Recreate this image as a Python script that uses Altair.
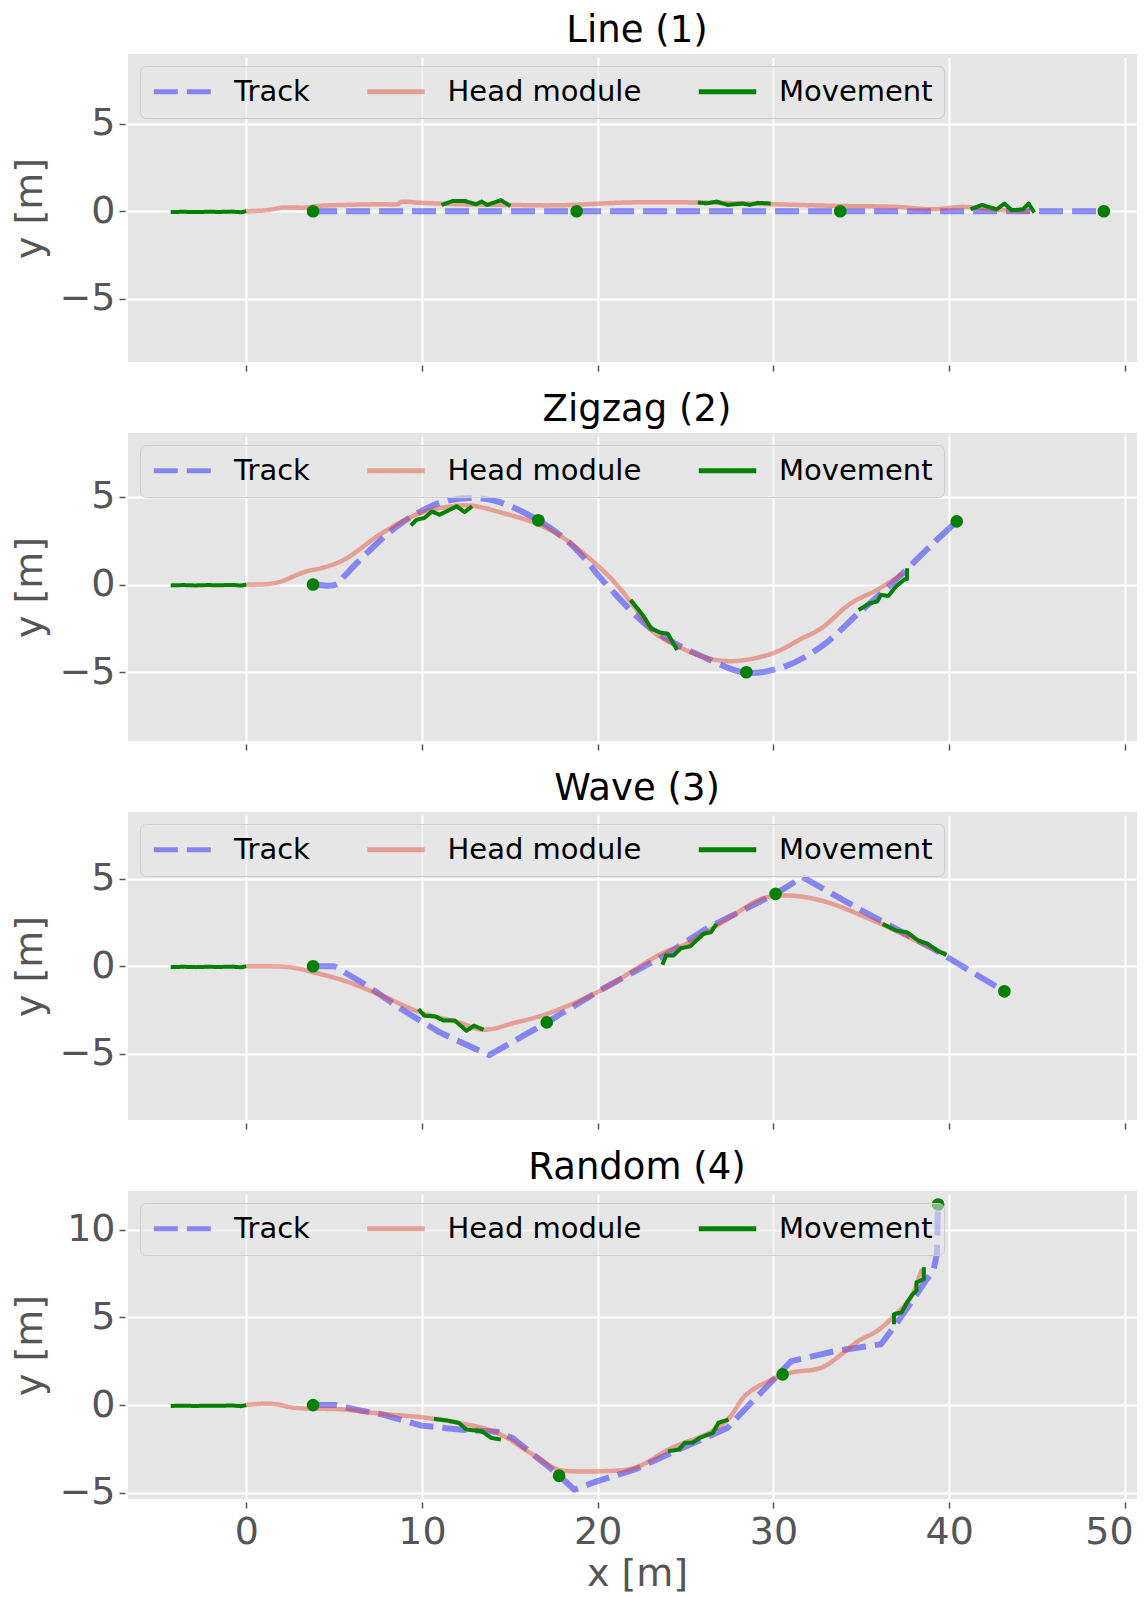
import altair as alt
import pandas as pd

# ---------------- data ----------------
SERIES = ["Track", "Head module", "Movement"]
SERIES_COLORS = ["rgba(0,0,255,0.42)", "rgba(226,74,51,0.45)", "#008000"]
SERIES_DASH = [[24, 9], [1, 0], [1, 0]]

TITLES = ["Line (1)", "Zigzag (2)", "Wave (3)", "Random (4)"]
X_TICKS = [0, 10, 20, 30, 40, 50]
X_DOMAIN = [-6.73, 51.2]
Y_DOMAINS = [[-8.6, 8.97], [-8.92, 8.64], [-8.77, 8.8], [-5.35, 12.2]]
Y_TICKS = [[-5, 0, 5], [-5, 0, 5], [-5, 0, 5], [-5, 0, 5, 10]]
# smooth (curved) tracks vs. straight-segment tracks, per panel
TRACK_CURVE = ["linear", "catmull-rom", "linear", "linear"]

# initial movement before the track (same in every run)
start_x = [-4.3, -3.6, -2.9, -2.2, -1.5, -0.8, -0.3, 0.0]
start_y = [-0.05, -0.03, -0.05, -0.03, -0.04, -0.02, -0.06, 0.0]

# ---- Line (1)
line_track_x = [3.8, 48.8]
line_track_y = [0.0, 0.0]
line_head_x = [0, 1.2, 2.07, 3.38, 4.03, 5.56, 7.73, 8.6, 8.82, 9.91, 12.09, 14.93,
               17.83, 21.66, 25.7, 29.95, 33.78, 36.97, 39.1, 40.8, 42.3, 44.62]
line_head_y = [0, 0.06, 0.21, 0.21, 0.3, 0.36, 0.4, 0.4, 0.53, 0.48, 0.4, 0.36,
               0.34, 0.5, 0.5, 0.4, 0.3, 0.25, 0.11, 0.25, 0.11, -0.02]
line_move_x = [[11.11, 11.76, 12.42, 13.07, 13.4, 13.72, 14.49, 15.03],
               [25.7, 26.2, 26.76, 27.4, 28.25, 28.67, 29.1, 29.84],
               [41.22, 41.86, 42.71, 43.14, 43.56, 44.2, 44.52, 44.84]]
line_move_y = [[0.36, 0.59, 0.59, 0.40, 0.55, 0.36, 0.63, 0.30],
               [0.50, 0.45, 0.55, 0.36, 0.44, 0.36, 0.48, 0.44],
               [0.11, 0.36, 0.11, 0.44, 0.06, 0.11, 0.44, -0.08]]
line_goal_x = [3.8, 18.8, 33.8, 48.8]
line_goal_y = [0.0, 0.0, 0.0, 0.0]

# ---- Zigzag (2)
zig_track_x = [3.8, 5.12, 5.56, 6.86, 8.82, 11.0, 12.74, 14.27, 16.62, 18.62, 20.59,
               23.14, 26.33, 28.46, 30.59, 32.72, 34.84, 36.97, 39.1, 40.43]
zig_track_y = [0, 0, 0.46, 1.79, 3.5, 4.65, 4.93, 4.74, 3.66, 2.17, -0.11,
               -2.59, -4.27, -5.03, -4.69, -3.54, -1.64, 0.27, 2.36, 3.6]
zig_head_x = [0, 1.64, 3.38, 4.25, 5.56, 7.73, 9.91, 12.09, 12.96, 14.27, 16.45, 17.83,
              19.74, 21.0, 22.08, 23.04, 24.2, 26.33, 27.82, 29.95, 31.65, 32.72, 34.4,
              35.9, 37.4]
zig_head_y = [0, 0.08, 0.74, 0.93, 1.41, 2.93, 4.08, 4.5, 4.48, 4.17, 3.5, 2.8,
              1.31, 0.08, -1.26, -2.59, -3.35, -4.21, -4.36, -3.92, -3.06, -2.5, -1.07,
              -0.3, 0.65]
zig_move_x = [[9.37, 9.7, 10.13, 10.57, 11.0, 11.98, 12.42, 12.85],
              [21.87, 22.61, 23.04, 23.57, 23.99, 24.52],
              [34.84, 35.48, 35.9, 36.12, 36.54, 36.97, 37.5, 37.6, 37.6]]
zig_move_y = [[3.37, 3.7, 3.79, 4.17, 3.98, 4.46, 4.13, 4.46],
              [-0.88, -1.8, -2.5, -2.74, -2.8, -3.73],
              [-1.45, -1.07, -0.97, -0.59, -0.65, -0.11, 0.32, 0.32, 0.93]]
zig_goal_x = [3.8, 16.62, 28.46, 40.43]
zig_goal_y = [0.0, 3.66, -5.0, 3.6]

# ---- Wave (3)
wave_track_x = [3.8, 5.01, 6.86, 8.82, 11.0, 13.83, 17.1, 20.1, 23.78, 26.33, 30.12,
                31.65, 34.84, 39.1, 43.14]
wave_track_y = [0, 0, -1.1, -2.44, -3.77, -5.07, -3.2, -1.39, 0.61, 2.23, 4.13,
                5.09, 3.28, 0.99, -1.43]
wave_head_x = [0, 2.51, 3.81, 5.56, 7.73, 9.91, 12.09, 13.5, 15.36, 17.1, 19.95, 23.78,
               24.84, 27.4, 29.31, 30.59, 32.72, 35.9, 39.1, 39.84]
wave_head_y = [0, -0.06, -0.34, -0.82, -1.68, -2.63, -3.2, -3.62, -3.2, -2.72, -1.49, 0.8,
               1.18, 2.7, 3.85, 4.04, 3.75, 2.51, 0.99, 0.7]
wave_move_x = [[9.8, 10.13, 10.78, 11.22, 11.87, 12.53, 12.96, 13.5],
               [23.68, 23.89, 24.31, 24.74, 25.27, 26.02, 26.44, 26.76],
               [36.22, 36.97, 37.6, 38.24, 38.78, 39.3, 39.84]]
wave_move_y = [[-2.44, -2.82, -2.86, -3.1, -3.1, -3.68, -3.39, -3.62],
               [0.08, 0.61, 0.61, 1.03, 1.14, 1.85, 1.94, 2.42],
               [2.42, 2.04, 1.94, 1.47, 1.28, 0.9, 0.65]]
wave_goal_x = [3.8, 17.1, 30.12, 43.14]
wave_goal_y = [0.0, -3.2, 4.13, -1.43]

# ---- Random (4)
rand_track_x = [3.8, 5.12, 6.65, 7.73, 9.91, 12.09, 14.27, 15.14, 16.45, 17.54, 18.67,
                19.95, 22.08, 24.21, 26.33, 27.4, 28.46, 29.74, 31.01, 31.86, 33.56,
                36.12, 36.97, 38.03, 38.67, 39.1, 39.3, 39.34, 39.37]
rand_track_y = [0, 0, -0.34, -0.53, -1.16, -1.39, -1.52, -1.87, -2.91, -3.77, -4.82,
                -4.34, -3.68, -2.71, -1.77, -1.29, -0.15, 1.18, 2.51, 2.7, 3.09,
                3.47, 4.61, 6.13, 7.09, 7.66, 8.61, 10.5, 11.43]
rand_head_x = [0, 1.42, 2.73, 3.8, 5.56, 7.73, 9.91, 12.09, 14.27, 16.45, 17.75, 18.62,
               20.1, 22.08, 24.21, 26.33, 27.4, 28.46, 29.74, 31.01, 32.72, 33.99, 34.84,
               35.9, 36.97, 37.82, 38.35, 38.46]
rand_head_y = [0, 0.08, -0.15, -0.2, -0.25, -0.5, -0.69, -1.01, -1.58, -2.91, -3.68, -3.77,
               -3.77, -3.58, -2.44, -1.58, -0.82, 0.61, 1.37, 1.85, 2.13, 2.99, 3.66,
               4.23, 5.18, 6.13, 7.47, 7.75]
rand_move_x = [[10.68, 11.44, 12.09, 12.53, 13.4, 13.94, 14.49],
               [24.0, 24.63, 24.95, 25.38, 25.8, 26.55, 26.87, 27.44],
               [36.86, 36.86, 37.29, 37.6, 37.92, 38.14, 38.14, 38.56, 38.56]]
rand_move_y = [[-0.78, -0.88, -1.01, -1.39, -1.49, -1.87, -1.96],
               [-2.63, -2.53, -2.15, -2.15, -1.87, -1.58, -1.01, -0.82],
               [4.61, 5.18, 5.28, 5.85, 6.32, 6.51, 6.99, 7.18, 7.85]]
rand_goal_x = [3.8, 17.8, 30.52, 39.37]
rand_goal_y = [0.0, -4.02, 1.75, 11.43]

PANELS = [
    (line_track_x, line_track_y, line_head_x, line_head_y, line_move_x, line_move_y, line_goal_x, line_goal_y),
    (zig_track_x, zig_track_y, zig_head_x, zig_head_y, zig_move_x, zig_move_y, zig_goal_x, zig_goal_y),
    (wave_track_x, wave_track_y, wave_head_x, wave_head_y, wave_move_x, wave_move_y, wave_goal_x, wave_goal_y),
    (rand_track_x, rand_track_y, rand_head_x, rand_head_y, rand_move_x, rand_move_y, rand_goal_x, rand_goal_y),
]

FONT = "DejaVu Sans"
PLOT_W = 1018
PLOT_H = 308


def series_df(xs, ys, name, seg="0"):
    return pd.DataFrame({"x": xs, "y": ys, "series": name, "seg": seg,
                         "i": list(range(len(xs)))})


def make_panel(k):
    tx, ty, hx, hy, mxs, mys, gx, gy = PANELS[k]
    last = k == len(PANELS) - 1

    track_df = series_df(tx, ty, "Track")
    head_df = series_df(hx, hy, "Head module")
    move_parts = [series_df(start_x, start_y, "Movement", "s0")]
    for j, (mx, my) in enumerate(zip(mxs, mys)):
        move_parts.append(series_df(mx, my, "Movement", f"s{j + 1}"))
    move_df = pd.concat(move_parts, ignore_index=True)
    goal_df = pd.DataFrame({"x": gx, "y": gy})

    legend = alt.Legend(
        orient="top-left", direction="horizontal", columns=3,
        symbolType="stroke", symbolSize=3300, symbolStrokeWidth=5,
        labelFontSize=29, labelFont=FONT, labelColor="black", labelLimit=400,
        labelOffset=20, columnPadding=54.5, padding=11, offset=12, clipHeight=29,
        fillColor="rgba(232,232,232,0.55)", strokeColor="#CCCCCC", cornerRadius=6,
    )
    color = alt.Color("series:N", title=None,
                      scale=alt.Scale(domain=SERIES, range=SERIES_COLORS), legend=legend)
    dash = alt.StrokeDash("series:N", title=None,
                          scale=alt.Scale(domain=SERIES, range=SERIES_DASH), legend=legend)

    x_axis = alt.Axis(
        values=X_TICKS, labels=last, title="x [m]" if last else None, grid=True,
        # keep the last tick label ("50") inside the page edge
        labelOffset={"condition": {"test": "datum.value === 50", "value": -16}, "value": 0},
    )
    y_axis = alt.Axis(values=Y_TICKS[k], title="y [m]", grid=True)
    x_enc = alt.X("x:Q", scale=alt.Scale(domain=X_DOMAIN, nice=False, zero=False), axis=x_axis)
    y_enc = alt.Y("y:Q", scale=alt.Scale(domain=Y_DOMAINS[k], nice=False, zero=False), axis=y_axis)

    track = alt.Chart(track_df).mark_line(
        strokeWidth=6, strokeCap="butt", strokeJoin="round", interpolate=TRACK_CURVE[k]
    ).encode(x=x_enc, y=y_enc, color=color, strokeDash=dash, order="i:Q")
    head = alt.Chart(head_df).mark_line(
        strokeWidth=4.5, strokeJoin="round", interpolate="catmull-rom"
    ).encode(x=x_enc, y=y_enc, color=color, strokeDash=dash, order="i:Q")
    move = alt.Chart(move_df).mark_line(strokeWidth=4, strokeJoin="round").encode(
        x=x_enc, y=y_enc, color=color, strokeDash=dash, detail="seg:N", order="i:Q")
    goals = alt.Chart(goal_df).mark_circle(size=160, color="#008000", opacity=1).encode(
        x=alt.X("x:Q"), y=alt.Y("y:Q"))

    return alt.layer(track, head, move, goals).properties(
        width=PLOT_W, height=PLOT_H,
        title=alt.TitleParams(TITLES[k], fontSize=37, font=FONT, fontWeight="normal",
                              color="black", anchor="middle", frame="group", offset=4),
    )


# the right padding is negative so that, as in the reference, the plot area
# runs to the right edge of the page and is cut there
chart = alt.vconcat(*[make_panel(k) for k in range(len(PANELS))], spacing=19).resolve_scale(
    color="independent", strokeDash="independent"
).properties(
    padding={"left": 3, "top": 4, "right": -9, "bottom": 0},
    background="white",
).configure_view(
    fill="#E5E5E5", strokeWidth=0
).configure_axis(
    domain=False, gridColor="white", gridWidth=2, tickColor="#555555", tickSize=6,
    tickWidth=1.5, labelColor="#555555", labelFontSize=38, labelFont=FONT,
    titleFont=FONT, titleFontSize=38, titleFontWeight="normal", titleColor="#555555",
    labelPadding=4, offset=3,
).configure_axisY(
    titlePadding=9
).configure_axisX(
    titlePadding=4, labelPadding=5.5
)

chart.save("out.html", embed_options={"renderer": "svg", "actions": False})
